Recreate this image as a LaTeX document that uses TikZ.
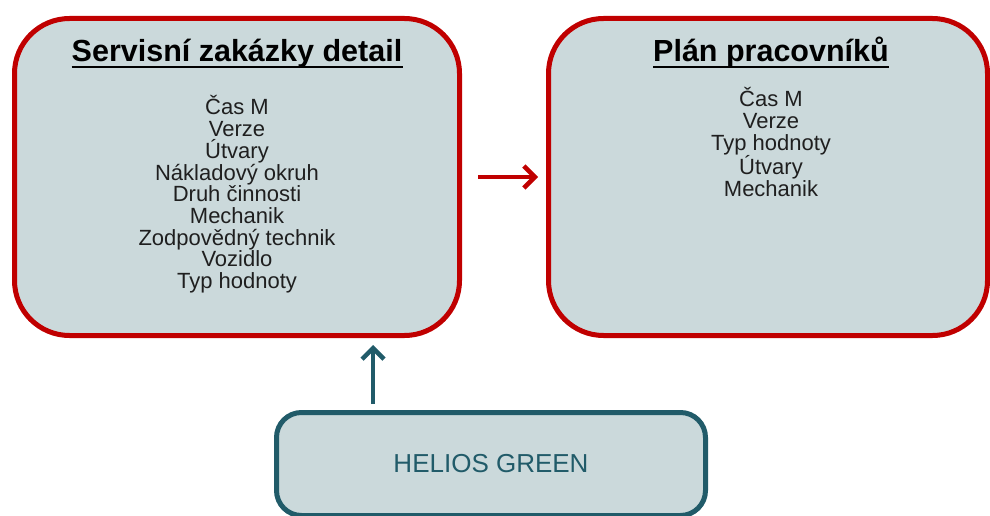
\documentclass[tikz,border=0pt]{standalone}
\usepackage{fontspec}
\setmainfont{Liberation Sans}
\usetikzlibrary{positioning,arrows.meta}

\definecolor{boxfill}{HTML}{CBD9DB}
\definecolor{boxred}{HTML}{C00000}
\definecolor{helteal}{HTML}{215B69}

\tikzset{
  tablebox/.style={draw=boxred, line width=5pt, fill=boxfill,
    rounded corners=55pt, minimum height=317pt},
  sourcebox/.style={draw=helteal, line width=5pt, fill=boxfill,
    rounded corners=25pt, minimum width=429pt, minimum height=103pt},
  boxtitle/.style={font=\fontsize{30.5}{36}\selectfont\bfseries, inner sep=0pt, anchor=base},
  fieldlist/.style={font=\fontsize{22}{21.7}\selectfont, align=center,
    inner sep=0pt, anchor=north, text=black!88},
  flow/.style={line width=4.5pt, -{Straight Barb[length=11pt,width=22pt,line width=4.5pt]}}
}

\begin{document}
\begin{tikzpicture}[x=1pt,y=-1pt]
  \useasboundingbox (0,0) rectangle (990,516);
  \clip (0,0) rectangle (990,516);

  % boxes
  \node[tablebox, minimum width=445pt] (zak) at (237,177) {};
  \node[tablebox, minimum width=439pt] (plan) at (768,177) {};
  \node[sourcebox] (helios) at (491,464)
    {\fontsize{26}{30}\selectfont\color{helteal}HELIOS GREEN};

  % titles
  \node[boxtitle] (zaktitle) at (237,62) {Servisní zakázky detail};
  \node[boxtitle] (plantitle) at (771,62) {Plán pracovníků};
  \draw[line width=2.5pt] ([yshift=-5pt]zaktitle.base west) -- ([yshift=-5pt]zaktitle.base east);
  \draw[line width=2.5pt] ([yshift=-5pt]plantitle.base west) -- ([yshift=-5pt]plantitle.base east);

  % fields
  \node[fieldlist] (zakfields) at (237,95.5) {Čas M\\Verze\\Útvary\\Nákladový okruh\\
    Druh činnosti\\Mechanik\\Zodpovědný technik\\Vozidlo\\Typ hodnoty};
  \node[fieldlist] (planfields) at (771,87.5) {Čas M\\Verze\\Typ hodnoty\\Útvary\\Mechanik};

  % arrows
  \draw[flow, boxred, shorten <=16pt, shorten >=8pt] (zak.east) -- (zak.east -| plan.west);
  \draw[flow, helteal, shorten <=6pt, shorten >=7pt] (helios.north -| 373,0) -- (zak.south -| 373,0);
\end{tikzpicture}
\end{document}
